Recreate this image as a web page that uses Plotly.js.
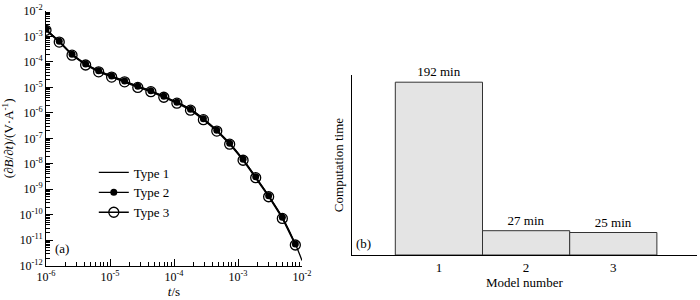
<!DOCTYPE html>
<html>
<head>
<meta charset="utf-8">
<script src="https://cdn.plot.ly/plotly-3.0.1.min.js"></script>
<style>html,body{margin:0;padding:0;background:#fff;}#chart{width:700px;height:300px;}</style>
</head>
<body>
<div id="chart"></div>
<script>
// Panel (a): time-domain response
const tValues = [1.0e-6, 1.61e-6, 2.55e-6, 4.16e-6, 6.64e-6, 1.06e-5, 1.69e-5, 2.72e-5, 4.35e-5, 6.93e-5,
                 1.11e-4, 1.81e-4, 2.88e-4, 4.66e-4, 7.41e-4, 1.20e-3, 1.89e-3, 3.01e-3, 4.93e-3, 7.87e-3];
const type1T = [1.0e-6, 1.61e-6, 2.55e-6, 4.16e-6, 6.64e-6, 1.06e-5, 1.69e-5, 2.72e-5, 4.35e-5, 6.93e-5,
                1.11e-4, 1.81e-4, 2.88e-4, 4.66e-4, 7.41e-4, 1.20e-3, 1.89e-3, 3.01e-3, 4.93e-3, 7.87e-3, 1.0e-2];
const type1Values = [1.9e-3, 6.5e-4, 2.0e-4, 8.3e-5, 4.5e-5, 2.8e-5, 1.8e-5, 1.1e-5, 7.4e-6, 4.5e-6,
                     2.6e-6, 1.4e-6, 5.9e-7, 2.1e-7, 6.4e-8, 1.5e-8, 3.1e-9, 5.6e-10, 7.9e-11, 7.1e-12, 1.6e-12];
const type2Values = [1.9e-3, 6.5e-4, 2.0e-4, 8.3e-5, 4.5e-5, 2.8e-5, 1.8e-5, 1.1e-5, 7.4e-6, 4.5e-6,
                     2.6e-6, 1.4e-6, 5.9e-7, 2.1e-7, 6.4e-8, 1.5e-8, 3.1e-9, 5.6e-10, 7.9e-11, 7.1e-12];
const type3Values = [1.75e-3, 6.0e-4, 1.85e-4, 7.6e-5, 4.1e-5, 2.55e-5, 1.65e-5, 1.0e-5, 6.8e-6, 4.1e-6,
                     2.4e-6, 1.28e-6, 5.4e-7, 1.93e-7, 5.9e-8, 1.38e-8, 2.85e-9, 5.1e-10, 7.2e-11, 6.5e-12];
const seriesNames = ["Type 1", "Type 2", "Type 3"];
const xTickVals = [1e-6, 1e-5, 1e-4, 1e-3, 1e-2];
const xTickText = ["10<sup>-6</sup>", "10<sup>-5</sup>", "10<sup>-4</sup>", "10<sup>-3</sup>", "10<sup>-2</sup>"];
const yTickVals = [1e-12, 1e-11, 1e-10, 1e-9, 1e-8, 1e-7, 1e-6, 1e-5, 1e-4, 1e-3, 1e-2];
const yTickText = ["10<sup>-12</sup>", "10<sup>-11</sup>", "10<sup>-10</sup>", "10<sup>-9</sup>", "10<sup>-8</sup>",
                   "10<sup>-7</sup>", "10<sup>-6</sup>", "10<sup>-5</sup>", "10<sup>-4</sup>", "10<sup>-3</sup>", "10<sup>-2</sup>"];

// Panel (b): computation time
const models = [1, 2, 3];
const modelLabels = ["1", "2", "3"];
const computeMinutes = [192, 27, 25];
const computeText = ["192 min", "27 min", "25 min"];

const FONT = "Liberation Serif";

const traces = [
  {x: type1T, y: type1Values, name: seriesNames[0], mode: "lines", type: "scatter",
   line: {color: "#000", width: 1.3, shape: "spline"}, xaxis: "x", yaxis: "y", legendrank: 1},
  {x: tValues, y: type3Values, name: seriesNames[2], mode: "lines+markers", type: "scatter",
   line: {color: "#000", width: 1.3}, marker: {symbol: "circle-open", size: 10, color: "#000", line: {width: 1.3, color: "#000"}},
   xaxis: "x", yaxis: "y", legendrank: 3},
  {x: tValues, y: type2Values, name: seriesNames[1], mode: "lines+markers", type: "scatter",
   line: {color: "#000", width: 1.3}, marker: {symbol: "circle", size: 7, color: "#000"},
   xaxis: "x", yaxis: "y", legendrank: 2},
  {x: models, y: computeMinutes, type: "bar", width: 1, text: computeText, textposition: "outside",
   textfont: {family: FONT, size: 13, color: "#000"}, cliponaxis: false,
   marker: {color: "#e4e4e4", line: {color: "#333", width: 1}}, showlegend: false,
   xaxis: "x2", yaxis: "y2"}
];

const layout = {
  width: 700, height: 300,
  margin: {l: 0, r: 0, t: 0, b: 0},
  paper_bgcolor: "#fff", plot_bgcolor: "rgba(0,0,0,0)",
  font: {family: FONT, size: 12, color: "#000"},
  showlegend: true,
  legend: {x: 0.134, y: 0.475, xanchor: "left", yanchor: "top", bgcolor: "rgba(0,0,0,0)",
           font: {family: FONT, size: 13}, tracegroupgap: 0, itemwidth: 30},
  xaxis: {type: "log", domain: [46/700, 302/700], range: [-6, -2], anchor: "y",
          showline: true, linecolor: "#000", linewidth: 1, showgrid: false, zeroline: false,
          ticks: "inside", ticklen: 7, tickcolor: "#000", tickvals: xTickVals, ticktext: xTickText,
          tickfont: {family: FONT, size: 12},
          minor: {ticks: "inside", ticklen: 4, tickcolor: "#000", dtick: "D1", showgrid: false},
          title: {text: "<i>t</i>/s", font: {family: FONT, size: 13}, standoff: 2}},
  yaxis: {type: "log", domain: [1 - 265.7/300, 1 - 11/300], range: [-12, -2], anchor: "x",
          showline: true, linecolor: "#000", linewidth: 1, showgrid: false, zeroline: false,
          ticks: "inside", ticklen: 7, tickcolor: "#000", tickvals: yTickVals, ticktext: yTickText,
          tickfont: {family: FONT, size: 12},
          minor: {ticks: "inside", ticklen: 4, tickcolor: "#000", dtick: "D1", showgrid: false},
          title: {text: "(∂<i>B</i>/∂<i>t</i>)/(V·A<sup>-1</sup>)", font: {family: FONT, size: 13}, standoff: 2}},
  xaxis2: {domain: [351.7/700, 697/700], range: [0, 3.96], anchor: "y2",
           showline: true, linecolor: "#000", linewidth: 1, showgrid: false, zeroline: false,
           ticks: "", tickvals: models, ticktext: modelLabels, tickfont: {family: FONT, size: 13},
           title: {text: "Model number", font: {family: FONT, size: 13}, standoff: 2}},
  yaxis2: {domain: [1 - 255/300, 1 - 75/300], range: [0, 200], anchor: "x2",
           showline: true, linecolor: "#000", linewidth: 1, showgrid: false, zeroline: false,
           ticks: "", showticklabels: false,
           title: {text: "Computation time", font: {family: FONT, size: 13}, standoff: 4}},
  bargap: 0,
  annotations: [
    {text: "(a)", xref: "paper", yref: "paper", x: 62/700, y: 1 - 248/300, showarrow: false,
     font: {family: FONT, size: 13}, xanchor: "center", yanchor: "middle"},
    {text: "(b)", xref: "paper", yref: "paper", x: 363/700, y: 1 - 243/300, showarrow: false,
     font: {family: FONT, size: 13}, xanchor: "center", yanchor: "middle"}
  ]
};

Plotly.newPlot("chart", traces, layout, {displayModeBar: false, staticPlot: true});
</script>
</body>
</html>
